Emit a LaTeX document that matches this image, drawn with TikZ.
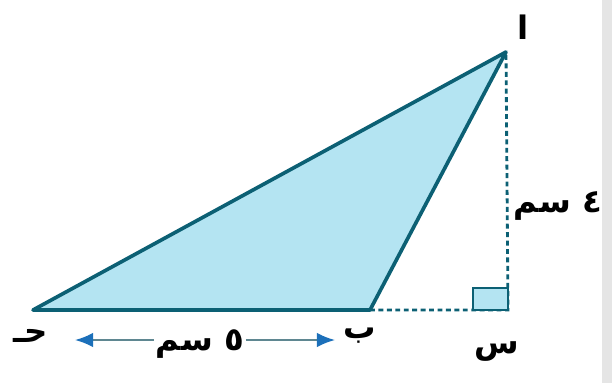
\documentclass[tikz,border=0pt]{standalone}
\usepackage{fontspec}
\newfontfamily\arabicfont[Script=Arabic]{DejaVu Sans}
\TeXXeTstate=1
\usetikzlibrary{arrows.meta}
\definecolor{triFill}{RGB}{180,228,242}
\definecolor{triLine}{RGB}{12,96,116}
\definecolor{dimBlue}{RGB}{28,112,186}
\definecolor{dimLine}{RGB}{95,135,145}
\begin{document}
\begin{tikzpicture}[x=0.025cm,y=-0.025cm,every node/.style={font=\arabicfont\bfseries\fontsize{23}{27}\selectfont}]
  \tikzset{
    side/.style={line width=2.6pt,triLine,line join=round,line cap=round},
    aux/.style={line width=2pt,triLine,dash pattern=on 3.5pt off 2.5pt},
    lbl/.style={inner sep=1pt},
    dimarr/.style={-{Latex[length=4.5mm,width=3.6mm,color=dimBlue]},line width=1.3pt,dimLine}
  }
  \useasboundingbox (0,0) rectangle (612,383);
  \fill[gray!20] (602,0) rectangle (612,383);

  % vertices
  \coordinate (A) at (506,52);
  \coordinate (B) at (370,310);
  \coordinate (C) at (33,310);
  \coordinate (S) at (508,310);

  \fill[triFill] (A) -- (B) -- (C) -- cycle;
  \draw[aux] (B) -- (S) -- (A);
  \filldraw[fill=triFill,draw=triLine,line width=2pt] (S) rectangle ++(-35,-22);
  \draw[side] (A) -- (B) -- (C) -- cycle;

  \node[lbl] (lA) at (523,27) {\beginR ا\endR};
  \node[lbl] (lB) at (360,336) {\beginR ب\endR};
  \node[lbl] (lC) at (31,336) {\beginR حـ\endR};
  \node[lbl] (lS) at (497,352) {\beginR س\endR};
  \node[lbl] (hgt) at (558,206) {\beginR ٤ سم\endR};

  % base length
  \coordinate (dL) at (75,340);
  \coordinate (dR) at (335,340);
  \node[lbl] (len) at (200,344) {\beginR ٥ سم\endR};
  \draw[dimarr] (len.west |- dL) -- (dL);
  \draw[dimarr] (len.east |- dR) -- (dR);
\end{tikzpicture}
\end{document}
